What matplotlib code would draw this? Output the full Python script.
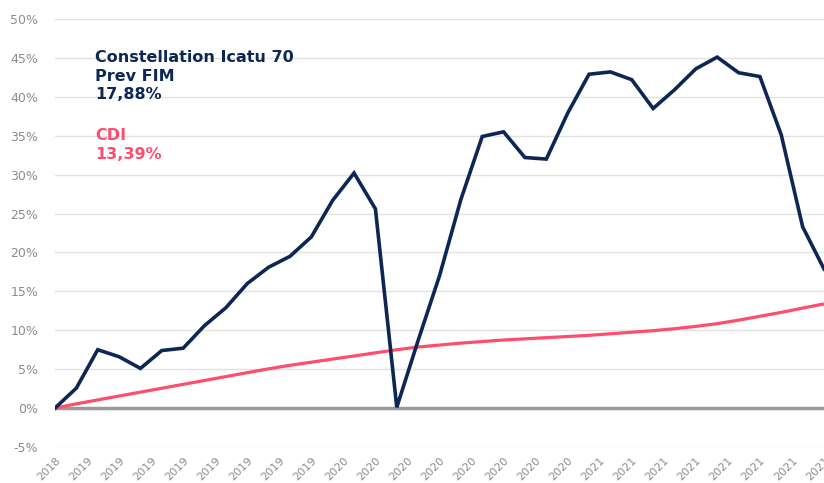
import matplotlib
matplotlib.use("Agg")
import matplotlib.pyplot as plt
import numpy as np

fund_name = "Constellation Icatu 70\nPrev FIM"
fund_label = "17,88%"
cdi_name = "CDI"
cdi_label = "13,39%"

fund = [0.0, 2.57, 7.5, 6.6, 5.1, 7.4, 7.7, 10.6, 12.9, 16.0, 18.1, 19.5, 22.0,
        26.7, 30.2, 25.6, 0.1, 8.7, 17.0, 26.8, 34.9, 35.5, 32.2, 32.0, 37.9,
        42.9, 43.2, 42.2, 38.5, 40.9, 43.6, 45.1, 43.1, 42.6, 35.1, 23.3, 17.88]
cdi = [0.0, 0.55, 1.05, 1.55, 2.05, 2.55, 3.05, 3.55, 4.05, 4.55, 5.05, 5.5,
       5.9, 6.3, 6.7, 7.1, 7.5, 7.85, 8.1, 8.35, 8.55, 8.75, 8.9, 9.05, 9.2,
       9.35, 9.55, 9.75, 9.95, 10.2, 10.5, 10.85, 11.3, 11.8, 12.3, 12.85, 13.39]
tick_labels = ["2018"] + ["2019"] * 8 + ["2020"] * 8 + ["2021"] * 8
y_ticks = [-5, 0, 5, 10, 15, 20, 25, 30, 35, 40, 45, 50]

navy = "#0c2754"
pink = "#ff4d6d"
gray_txt = "#8c8c8c"

fig = plt.figure(figsize=(8.24, 4.83), dpi=100)
ax = fig.add_axes([55 / 824, 1 - 447 / 483, 1 - 55 / 824, (447 - 19) / 483])

x = np.arange(len(fund))
n = len(fund) - 1
tick_pos = np.linspace(0, n, len(tick_labels))

for yt in y_ticks:
    if yt != 0:
        ax.axhline(yt, color="#e2e2e2", lw=1.0, zorder=1)
ax.axhline(0, color="#9a9a9a", lw=2.5, zorder=2)

ax.plot(x, cdi, color=pink, lw=2.3, zorder=3, solid_capstyle="butt")
ax.plot(x, fund, color=navy, lw=2.6, zorder=4, solid_joinstyle="miter")

ax.set_xlim(0, n)
ax.set_ylim(-5, 50)
ax.set_yticks(y_ticks)
ax.set_yticklabels([f"{v}%" for v in y_ticks], color=gray_txt, fontsize=9)
ax.set_xticks(tick_pos)
ax.set_xticklabels(tick_labels, rotation=45, ha="right", rotation_mode="anchor",
                   color=gray_txt, fontsize=8)
ax.tick_params(axis="both", length=0)
ax.tick_params(axis="y", pad=12)
ax.tick_params(axis="x", pad=6)
for s in ax.spines.values():
    s.set_visible(False)

fig.text(95 / 824, 1 - 50 / 483, fund_name + "\n" + fund_label, color=navy,
         fontsize=11.5, fontweight="bold", va="top", ha="left", linespacing=1.3)
fig.text(95 / 824, 1 - 128 / 483, cdi_name + "\n" + cdi_label, color=pink,
         fontsize=11.5, fontweight="bold", va="top", ha="left", linespacing=1.3)

fig.savefig("out.png", dpi=100)
